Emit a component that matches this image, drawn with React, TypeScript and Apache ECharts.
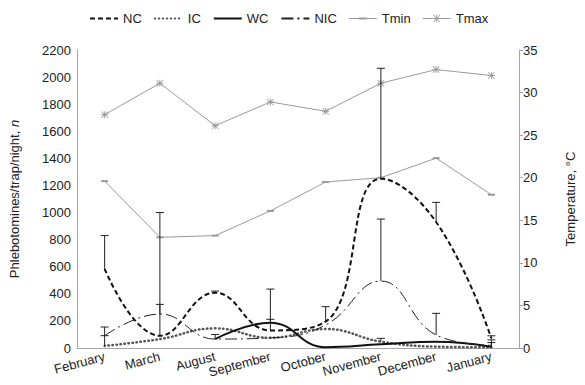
import React, { useEffect, useRef } from "react";
import * as echarts from "echarts";

const categories = ["February", "March", "August", "September", "October", "November", "December", "January"];
const ncValues = [585, 90, 408, 130, 195, 1250, 930, 70];
const icValues = [15, 66, 145, 75, 140, 47, 10, 5];
const wcValues = [null, null, 66, 187, 5, 27, 47, 10];
const nicValues = [91, 251, 66, 75, 170, 494, 96, 20];
const tminValues = [19.6, 13.0, 13.2, 16.1, 19.5, 20.0, 22.3, 18.0];
const tmaxValues = [27.4, 31.1, 26.1, 28.9, 27.8, 31.1, 32.7, 32.0];

// upper ends of the (plus-only) error bars
const ncErrTop = [830, 1000, 420, 435, 305, 2065, 1075, 90];
const icErrTop = [91, null, null, null, null, 71, null, 40];
const wcErrTop = [null, null, null, 212, null, null, null, null];
const nicErrTop = [155, 322, 100, null, null, 952, 256, 60];

const ASTERISK =
  "path://M4.4 0L5.6 0L5.6 10L4.4 10ZM0 0.8L0.8 0L10 9.2L9.2 10ZM9.2 0L10 0.8L0.8 10L0 9.2ZM0 4.4L10 4.4L10 5.6L0 5.6Z";
const TMIN_ICON = "path://M0 4.5L28 4.5L28 5.5L0 5.5ZM10 4L18 4L18 6L10 6Z";
const TMAX_ICON =
  "path://M0 4.5L28 4.5L28 5.5L0 5.5ZM13.6 1L14.4 1L14.4 9L13.6 9ZM10.5 1.5L11.1 1L17.5 8.5L16.9 9ZM16.9 1L17.5 1.5L11.1 9L10.5 8.5Z";

function buildErrors() {
  const pairs: [Array<number | null>, Array<number | null>][] = [
    [ncValues, ncErrTop],
    [icValues, icErrTop],
    [wcValues, wcErrTop],
    [nicValues, nicErrTop],
  ];
  const out: number[][] = [];
  pairs.forEach(([vals, tops]) => {
    tops.forEach((t, i) => {
      const v = vals[i];
      if (t != null && v != null) out.push([i, v, t]);
    });
  });
  return out;
}

export default function App() {
  const ref = useRef<HTMLDivElement>(null);
  useEffect(() => {
    if (!ref.current) return;
    const chart = echarts.init(ref.current, null, { renderer: "svg" });
    const font = "Liberation Sans, Arial, Helvetica, sans-serif";
    const axisGray = "#a6a6a6";
    const hideSym = { opacity: 0 };
    chart.setOption({
      animation: false,
      backgroundColor: "#ffffff",
      textStyle: { fontFamily: font },
      legend: {
        top: 7,
        left: 84,
        itemWidth: 28,
        itemHeight: 10,
        itemGap: 12,
        textStyle: { fontSize: 13, color: "#222", fontFamily: font },
        data: [
          { name: "NC", itemStyle: hideSym },
          { name: "IC", itemStyle: hideSym },
          { name: "WC", itemStyle: hideSym },
          { name: "NIC", itemStyle: hideSym },
          { name: "Tmin", icon: TMIN_ICON },
          { name: "Tmax", icon: TMAX_ICON },
        ],
      },
      grid: { left: 77, right: 47, top: 50, bottom: 37 },
      xAxis: {
        type: "category",
        data: categories,
        boundaryGap: true,
        axisLine: { lineStyle: { color: axisGray } },
        axisTick: { show: false },
        axisLabel: { interval: 0, rotate: 15, fontSize: 13, color: "#222", fontFamily: font, margin: 8 },
      },
      yAxis: [
        {
          type: "value",
          min: 0,
          max: 2200,
          interval: 200,
          name: "Phlebotomines/trap/night, {i|n}",
          nameLocation: "middle",
          nameRotate: 90,
          nameGap: 56,
          nameTextStyle: {
            fontSize: 13,
            color: "#222",
            fontFamily: font,
            rich: { i: { fontStyle: "italic", fontSize: 13, color: "#222", fontFamily: font } },
          },
          axisLine: { show: true, lineStyle: { color: axisGray } },
          axisTick: { show: false },
          splitLine: { show: false },
          axisLabel: {
            fontSize: 13,
            color: "#222",
            fontFamily: font,
            margin: 6,
            formatter: (v: number) => String(v),
          },
        },
        {
          type: "value",
          min: 0,
          max: 35,
          interval: 5,
          position: "right",
          name: "Temperature, °C",
          nameLocation: "middle",
          nameRotate: 90,
          nameGap: 45,
          nameTextStyle: { fontSize: 13, color: "#222", fontFamily: font },
          axisLine: { show: true, lineStyle: { color: axisGray } },
          axisTick: { show: true, length: 4, lineStyle: { color: axisGray } },
          splitLine: { show: false },
          axisLabel: { fontSize: 13, color: "#222", fontFamily: font, margin: 4 },
        },
      ],
      series: [
        {
          name: "NC",
          type: "line",
          data: ncValues,
          smooth: 0.45,
          symbol: "none",
          lineStyle: { color: "#111", width: 2, type: [5, 3] },
          itemStyle: { color: "#111" },
          z: 4,
        },
        {
          name: "IC",
          type: "line",
          data: icValues,
          smooth: 0.45,
          symbol: "none",
          lineStyle: { color: "#555", width: 2.5, type: [0.5, 3.5], cap: "round" },
          itemStyle: { color: "#555" },
          z: 4,
        },
        {
          name: "WC",
          type: "line",
          data: wcValues,
          smooth: 0.45,
          symbol: "none",
          connectNulls: false,
          lineStyle: { color: "#111", width: 2 },
          itemStyle: { color: "#111" },
          z: 4,
        },
        {
          name: "NIC",
          type: "line",
          data: nicValues,
          smooth: 0.45,
          symbol: "none",
          lineStyle: { color: "#222", width: 1, type: [12, 4, 2, 4] },
          itemStyle: { color: "#222" },
          z: 4,
        },
        {
          name: "Tmin",
          type: "line",
          yAxisIndex: 1,
          data: tminValues,
          symbol: "rect",
          symbolSize: [7, 2],
          lineStyle: { color: "#9a9a9a", width: 1 },
          itemStyle: { color: "#9a9a9a" },
          z: 3,
        },
        {
          name: "Tmax",
          type: "line",
          yAxisIndex: 1,
          data: tmaxValues,
          symbol: ASTERISK,
          symbolSize: 7,
          lineStyle: { color: "#9a9a9a", width: 1 },
          itemStyle: { color: "#9a9a9a" },
          z: 3,
        },
        {
          name: "errors",
          type: "custom",
          yAxisIndex: 0,
          data: buildErrors(),
          z: 5,
          silent: true,
          renderItem: (params: any, api: any) => {
            const x = api.value(0);
            const lo = api.coord([x, api.value(1)]);
            const hi = api.coord([x, api.value(2)]);
            const style = { stroke: "#222", lineWidth: 1 };
            return {
              type: "group",
              children: [
                { type: "line", shape: { x1: lo[0], y1: lo[1], x2: hi[0], y2: hi[1] }, style },
                { type: "line", shape: { x1: hi[0] - 4, y1: hi[1], x2: hi[0] + 4, y2: hi[1] }, style },
              ],
            };
          },
        },
      ],
    });
    return () => chart.dispose();
  }, []);
  return (
    <div
      ref={ref}
      style={{ position: "fixed", left: 0, top: 0, width: 585, height: 385 }}
    />
  );
}
